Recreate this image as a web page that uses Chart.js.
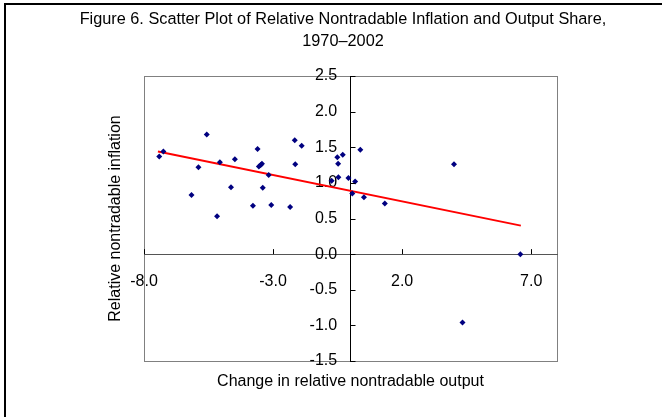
<!DOCTYPE html>
<html>
<head>
<meta charset="utf-8">
<script src="https://cdn.jsdelivr.net/npm/chart.js@4/dist/chart.umd.min.js"></script>
<style>
html,body{margin:0;padding:0;background:#fff;}
#wrap{width:662px;height:417px;position:relative;}
</style>
</head>
<body>
<div id="wrap"><canvas id="c" width="662" height="417"></canvas></div>
<script>
// Data
const titleLines = ["Figure 6. Scatter Plot of Relative Nontradable Inflation and Output Share,", "1970\u20132002"];
const xTitle = "Change in relative nontradable output";
const yTitle = "Relative nontradable inflation";
const outputChange = [-7.41,-7.25,-5.57,-5.89,-6.16,-5.06,-5.17,-4.48,-4.63,-3.60,-3.55,-3.48,-3.43,-3.17,-3.40,-3.78,-3.07,-2.34,-2.16,-1.89,-2.14,-0.51,-0.30,-0.48,-0.47,-0.73,-0.08,0.18,0.07,0.38,0.52,1.33,4.01,6.58,4.34];
const inflation    = [1.37,1.44,1.68,1.22,0.83,1.29,0.53,1.33,0.94,1.475,1.23,1.25,1.27,1.11,0.93,0.68,0.69,0.66,1.60,1.52,1.26,1.36,1.395,1.27,1.08,1.03,1.07,1.02,0.85,1.465,0.80,0.71,1.26,0.0,-0.96];
const trendX = [-7.46, 6.60];
const trendY = [1.44, 0.40];
const xTicks = [-8, -3, 2, 7];
const yTicks = [-1.5, -1.0, -0.5, 0.0, 0.5, 1.0, 1.5, 2.0, 2.5];

const FONT = "'Liberation Sans', Arial, sans-serif";

const decor = {
  id: 'decor',
  beforeDraw(chart) {
    const ctx = chart.ctx;
    ctx.save();
    ctx.fillStyle = '#fff';
    ctx.fillRect(0, 0, chart.width, chart.height);
    // outer frame
    ctx.strokeStyle = '#000';
    ctx.lineWidth = 2;
    ctx.strokeRect(5, 4, 700, 500);
    // plot border
    const a = chart.chartArea;
    ctx.strokeStyle = '#808080';
    ctx.lineWidth = 1;
    ctx.strokeRect(Math.round(a.left) + 0.5, Math.round(a.top) + 0.5, Math.round(a.right - a.left), Math.round(a.bottom - a.top));
    ctx.restore();
  },
  afterDraw(chart) {
    const ctx = chart.ctx;
    const xs = chart.scales.x, ys = chart.scales.y;
    const xAxisY = ys.getPixelForValue(0);
    const yAxisX = xs.getPixelForValue(0);
    ctx.save();
    // tick marks (inside direction as in reference)
    ctx.strokeStyle = '#000';
    ctx.lineWidth = 1;
    xTicks.forEach(v => {
      const px = Math.round(xs.getPixelForValue(v)) + 0.5;
      ctx.beginPath(); ctx.moveTo(px, xAxisY); ctx.lineTo(px, xAxisY - 5); ctx.stroke();
    });
    yTicks.forEach(v => {
      const py = Math.round(ys.getPixelForValue(v)) + 0.5;
      ctx.beginPath(); ctx.moveTo(yAxisX, py); ctx.lineTo(yAxisX + 5, py); ctx.stroke();
    });
    // titles
    ctx.fillStyle = '#000';
    ctx.textAlign = 'center';
    ctx.textBaseline = 'middle';
    ctx.font = "16.3px " + FONT;
    ctx.fillText(titleLines[0], 343, 20);
    ctx.fillText(titleLines[1], 343, 42);
    ctx.font = "16px " + FONT;
    const a = chart.chartArea;
    ctx.fillText(xTitle, (a.left + a.right) / 2, 382);
    ctx.translate(116, (a.top + a.bottom) / 2);
    ctx.rotate(-Math.PI / 2);
    ctx.fillText(yTitle, 0, 0);
    ctx.restore();
  }
};

const points = outputChange.map((x, i) => ({x: x, y: inflation[i]}));
const trend = trendX.map((x, i) => ({x: x, y: trendY[i]}));

new Chart(document.getElementById('c'), {
  type: 'scatter',
  data: {
    datasets: [
      {
        data: trend,
        type: 'line',
        showLine: true,
        borderColor: '#ff0000',
        borderWidth: 2,
        pointRadius: 0,
        fill: false,
        order: 2
      },
      {
        data: points,
        pointStyle: 'rectRot',
        pointRadius: 3,
        backgroundColor: '#000080',
        borderColor: '#000080',
        borderWidth: 0,
        order: 1
      }
    ]
  },
  options: {
    responsive: false,
    animation: false,
    devicePixelRatio: 1,
    layout: { padding: { left: 144, top: 76, right: 105, bottom: 56 } },
    plugins: { legend: { display: false }, title: { display: false }, tooltip: { enabled: false } },
    scales: {
      x: {
        type: 'linear',
        position: { y: 0 },
        min: -8, max: 8,
        afterBuildTicks: s => { s.ticks = xTicks.map(v => ({value: v})); },
        grid: { display: false, drawTicks: false },
        border: { display: true, color: '#555', width: 1 },
        ticks: {
          color: '#000',
          font: { family: FONT, size: 16 },
          padding: 18,
          maxRotation: 0,
          callback: v => v.toFixed(1)
        }
      },
      y: {
        type: 'linear',
        position: { x: 0 },
        min: -1.5, max: 2.5,
        afterBuildTicks: s => { s.ticks = yTicks.map(v => ({value: v})); },
        grid: { display: false, drawTicks: false },
        border: { display: true, color: '#000', width: 1 },
        ticks: {
          color: '#000',
          font: { family: FONT, size: 16 },
          padding: 0,
          // trailing spaces keep the right-aligned labels clear of the axis line
          callback: v => v.toFixed(1) + '   '
        }
      }
    }
  },
  plugins: [decor]
});
</script>
</body>
</html>
